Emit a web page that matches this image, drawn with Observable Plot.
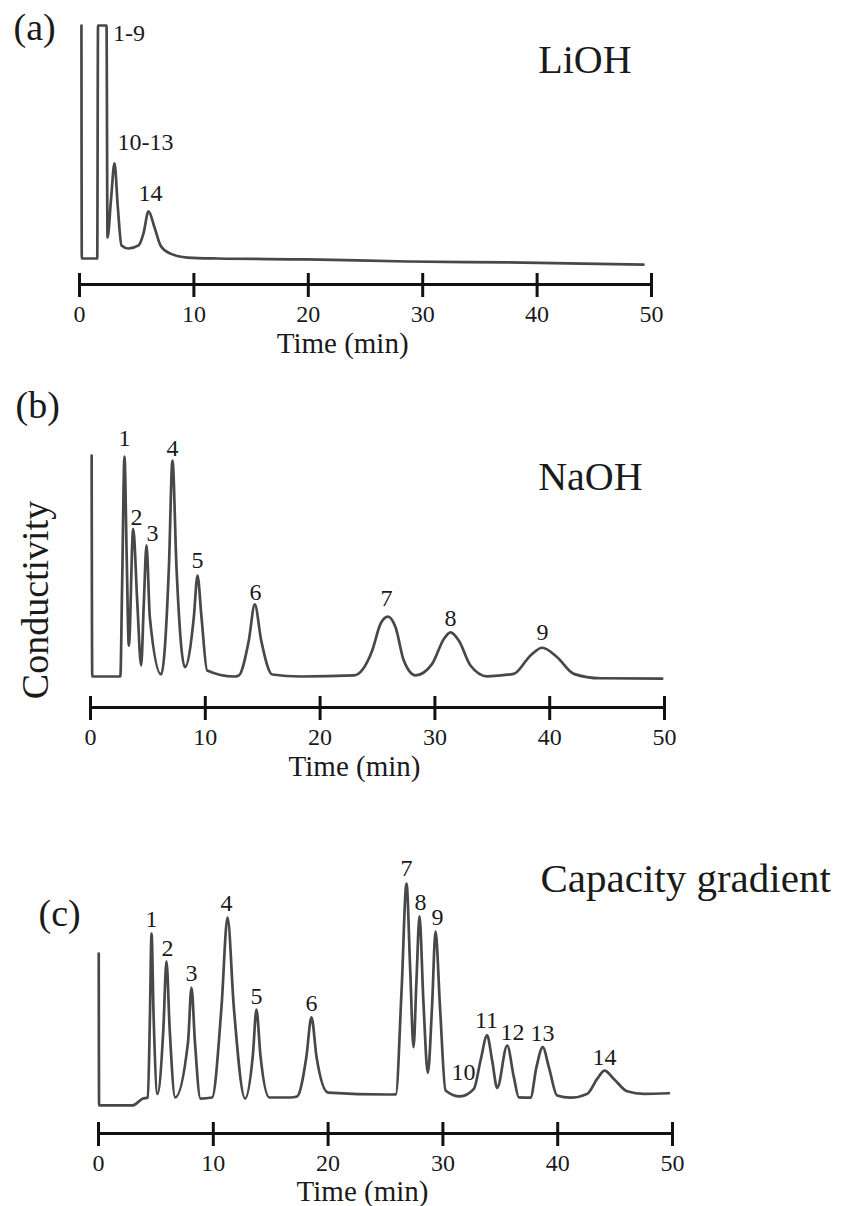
<!DOCTYPE html>
<html><head><meta charset="utf-8">
<script src="https://cdn.jsdelivr.net/npm/d3@7"></script>
<script src="https://cdn.jsdelivr.net/npm/@observablehq/plot@0.6"></script>
<style>
html,body{margin:0;padding:0;background:#fff;}
#chart{width:841px;height:1206px;overflow:hidden;background:#fff;}
#chart svg{display:block;}
</style></head><body><div id="chart"></div>
<script>
const FONT = '"Liberation Serif", "Times New Roman", Times, serif';
const tickValues = [0, 10, 20, 30, 40, 50];
const tickLabels = ["0", "10", "20", "30", "40", "50"];
const xLabel = "Time (min)";
const yLabel = "Conductivity";

// Panel (a) LiOH — time (min) and conductivity (a.u.)
const timeA = [0.17, 0.2, 1.55, 1.62, 2.36, 2.45, 2.75, 3.06, 3.35, 3.67, 4.28, 5.16, 5.59, 6.03, 6.56, 7.08, 7.95, 9.44, 12.06, 19.93, 28.67, 37.41, 49.3];
const condA = [100, 0, 0, 100, 100, 9, 25, 40.8, 22, 5.6, 4.3, 5.6, 10.7, 20.2, 13.3, 5.6, 2.1, 0.4, 0, -0.4, -1.3, -1.7, -2.6];
const peakNamesA = ["1-9", "10-13", "14"];
const peakTimeA = [4.33, 5.77, 6.2];
const peakCondA = [96.6, 49.8, 27.9];

// Panel (b) NaOH
const timeB = [0.1, 0.15, 2.6, 2.75, 2.96, 3.15, 3.34, 3.72, 4.07, 4.41, 4.65, 4.88, 5.17, 6.16, 6.83, 7.14, 7.49, 8.22, 9.0, 9.32, 9.67, 10.16, 12.48, 12.92, 13.79, 14.31, 14.87, 15.83, 18.3, 22.94, 24.54, 25.26, 25.9, 26.57, 27.29, 28.31, 29.76, 30.78, 31.36, 32.08, 33.1, 34.55, 36.87, 38.33, 39.35, 40.65, 42.1, 44.43, 49.8];
const condB = [100, 0, 0, 40, 99.5, 55, 14, 66.8, 34, 5, 34, 59.3, 26.8, 0.9, 49.5, 97.7, 49.5, 4.2, 26.8, 45.7, 26.8, 2.7, 0, 0.5, 16.3, 32.6, 16.3, 0.9, 0, 0.5, 11.8, 23.8, 27.1, 22.3, 7.2, 0.5, 5.7, 17, 20, 16.3, 5, 0.1, 1.2, 9.5, 13, 8.7, 1.2, -0.8, -1];
const peakNamesB = ["1", "2", "3", "4", "5", "6", "7", "8", "9"];
const peakTimeB = [2.96, 4.0, 5.4, 7.14, 9.32, 14.37, 25.78, 31.36, 39.37];
const peakCondB = [107.7, 71.9, 64.7, 103.2, 52.5, 38, 35.3, 26.2, 19.9];

// Panel (c) Capacity gradient
const timeC = [0.02, 0.05, 2.94, 3.88, 4.3, 4.48, 4.62, 4.8, 5.14, 5.65, 5.92, 6.2, 6.68, 7.8, 8.1, 8.4, 8.88, 9.9, 10.71, 11.24, 11.79, 12.77, 13.45, 13.76, 14.1, 14.88, 16.7, 17.3, 18.1, 18.55, 19.0, 20.0, 25.2, 25.9, 26.4, 26.83, 27.15, 27.44, 27.7, 27.96, 28.3, 28.69, 29.05, 29.36, 29.75, 30.23, 31.5, 32.7, 33.28, 33.85, 34.29, 34.73, 35.6, 36.18, 36.61, 37.63, 38.15, 38.7, 39.23, 39.95, 41.11, 42.57, 43.44, 44.08, 44.89, 46.05, 47.5, 49.68];
const condC = [67.3, -3.7, -3.7, -0.5, 0, 38, 76.6, 38, 1.7, 32, 63.6, 32, 0, 26, 51.4, 26, -0.5, 0, 42, 84.1, 42, -0.5, 20, 41.1, 20, 0, 0, 0.5, 18.7, 37.4, 18.7, 2.3, 1.4, 1.5, 50, 100, 60, 23.5, 55, 84.6, 45, 11.5, 42, 77.6, 42, 3.3, 0.5, 4, 17.3, 29, 17.3, 4.5, 24.3, 9.5, 0.1, -0.1, 14.2, 23.5, 14.2, 0.9, -0.1, 1.7, 8.7, 12.6, 8.7, 2.9, 1.7, 2];
const peakNamesC = ["1", "2", "3", "4", "5", "6", "7", "8", "9", "10", "11", "12", "13", "14"];
const peakTimeC = [4.62, 6.01, 8.1, 11.15, 13.76, 18.55, 26.83, 28.05, 29.53, 31.8, 33.8, 36.06, 38.68, 44.08];
const peakCondC = [83.2, 69.6, 57.9, 90.7, 47.2, 43.9, 107, 91.1, 84.1, 11.7, 36, 30.4, 29.9, 18.7];

const ink = "#1a1a1a";

function panel(o) {
  const series = o.time.map((t, i) => ({t, v: o.cond[i]}));
  const labels = o.names.map((s, i) => ({s, t: o.labelTime[i], v: o.labelCond[i]}));
  const marks = [
    Plot.axisX(tickValues, {anchor: "bottom", tickSize: 24, tickPadding: 7, stroke: "#111", strokeWidth: 3,
      fill: ink, fontSize: 24, fontFamily: FONT, label: null, tickFormat: d => tickLabels[tickValues.indexOf(d)]}),
    Plot.ruleY([o.yMin], {x1: 0, x2: 50, dy: 11, stroke: "#111", strokeWidth: 3}),
    Plot.line(series, {x: "t", y: "v", curve: "monotone-x", stroke: "#484848", strokeWidth: 2.7, strokeLinejoin: "round"}),
    Plot.text(labels, {x: "t", y: "v", text: "s", fontSize: 24, fontFamily: FONT, fill: ink}),
    Plot.text([o.title], {x: o.titleTime, y: o.titleCond, textAnchor: "start", lineAnchor: "bottom", fontSize: o.titleSize, fontFamily: FONT, fill: ink}),
    Plot.text([o.letter], {frameAnchor: "top-left", dx: o.letterDx, dy: o.letterDy, textAnchor: "start", lineAnchor: "bottom", fontSize: 38, fontFamily: FONT, fill: ink}),
    Plot.text([xLabel], {x: 23, frameAnchor: "bottom", dy: o.xLabelDy, textAnchor: "middle", lineAnchor: "bottom", fontSize: 29, fontFamily: FONT, fill: ink})
  ];
  if (o.extra) marks.push(...o.extra);
  return Plot.plot({
    width: 841, height: o.height,
    marginLeft: o.marginLeft, marginRight: o.marginRight, marginTop: o.marginTop, marginBottom: o.marginBottom,
    x: {domain: [0, 50]},
    y: {domain: [o.yMin, 100], axis: null},
    style: {fontFamily: FONT, background: "white", overflow: "visible"},
    marks
  });
}

const chart = document.getElementById("chart");
chart.append(panel({
  time: timeA, cond: condA, names: peakNamesA, labelTime: peakTimeA, labelCond: peakCondA,
  title: "LiOH", titleTime: 40.1, titleCond: 79.8, titleSize: 40, letter: "(a)", letterDx: -66, letterDy: 14,
  height: 385, marginLeft: 79, marginRight: 190, marginTop: 25, marginBottom: 112, yMin: -6.44, xLabelDy: 79
}));
chart.append(panel({
  time: timeB, cond: condB, names: peakNamesB, labelTime: peakTimeB, labelCond: peakCondB,
  title: "NaOH", titleTime: 39.0, titleCond: 84.2, titleSize: 40, letter: "(b)", letterDx: -75, letterDy: -38,
  height: 415, marginLeft: 90, marginRight: 177, marginTop: 70, marginBottom: 104, yMin: -9.05, xLabelDy: 79,
  extra: [Plot.text([yLabel], {frameAnchor: "left", dx: -55, dy: 24, rotate: -90, textAnchor: "middle", lineAnchor: "middle", fontSize: 38, fontFamily: FONT, fill: ink})]
}));
chart.append(panel({
  time: timeC, cond: condC, names: peakNamesC, labelTime: peakTimeC, labelCond: peakCondC,
  title: "Capacity gradient", titleTime: 38.5, titleCond: 95.8, titleSize: 41, letter: "(c)", letterDx: -60, letterDy: 42,
  height: 406, marginLeft: 98, marginRight: 169, marginTop: 83, marginBottom: 84, yMin: -11.68, xLabelDy: 78
}));
</script></body></html>
